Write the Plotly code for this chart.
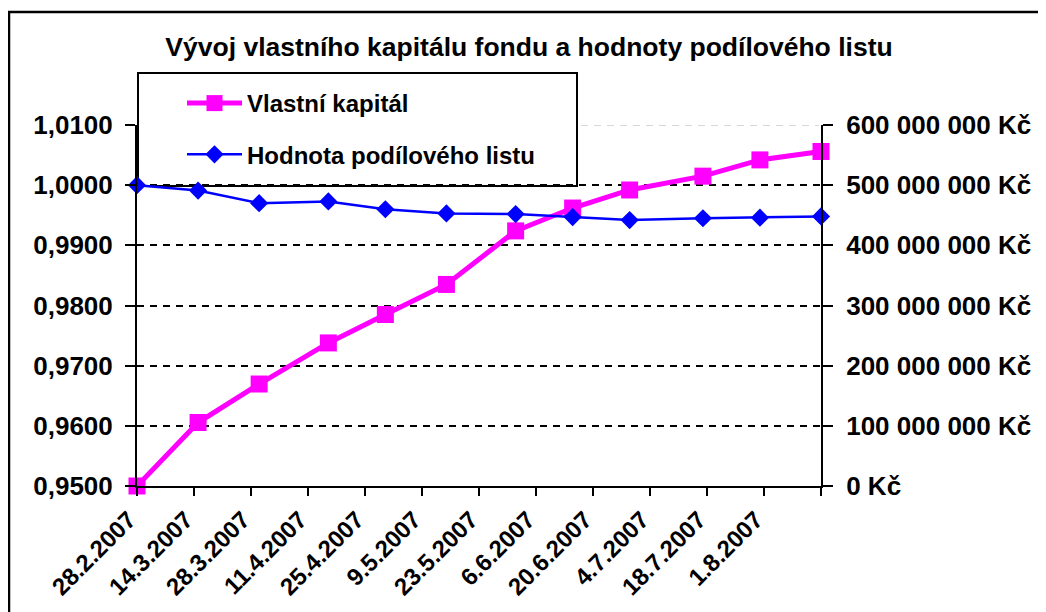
import plotly.graph_objects as go

# ---- data ----
dates = ["2007-02-28", "2007-03-15", "2007-03-30", "2007-04-16", "2007-04-30",
         "2007-05-15", "2007-06-01", "2007-06-15", "2007-06-29", "2007-07-17",
         "2007-07-31", "2007-08-15"]
vlastni_kapital = [0, 105_500_000, 169_500_000, 237_800_000, 285_000_000,
                   335_000_000, 424_000_000, 462_000_000, 492_000_000,
                   515_000_000, 542_000_000, 556_000_000]
hodnota_pl = [1.0000, 0.9991, 0.9970, 0.9973, 0.9960, 0.9953, 0.9952,
              0.9947, 0.9942, 0.9945, 0.9946, 0.9948]

tick_dates = ["2007-02-28", "2007-03-14", "2007-03-28", "2007-04-11", "2007-04-25",
              "2007-05-09", "2007-05-23", "2007-06-06", "2007-06-20", "2007-07-04",
              "2007-07-18", "2007-08-01", "2007-08-15"]
tick_labels = ["28.2.2007", "14.3.2007", "28.3.2007", "11.4.2007", "25.4.2007",
               "9.5.2007", "23.5.2007", "6.6.2007", "20.6.2007", "4.7.2007",
               "18.7.2007", "1.8.2007", ""]

title_text = "Vývoj vlastního kapitálu fondu a hodnoty podílového listu"

FONT = "Liberation Sans, Arial, sans-serif"
OFF = 8  # default page body margin
PAGE_W, PAGE_H = 1046, 612
W, H = PAGE_W - OFF, PAGE_H - OFF
PL, PR, PT, PB = 137, 821, 125, 486  # plot area in page pixels
L, R, T, B = PL - OFF, PAGE_W - PR, PT - OFF, PAGE_H - PB
PW, PH = PR - PL, PB - PT
Y_TOP = 600_000_000


def px_x(x):
    return (x - PL) / PW


def px_y(y):
    return (PB - y) / PH


fig = go.Figure()
fig.add_trace(go.Scatter(
    x=dates, y=vlastni_kapital, name="Vlastní kapitál", yaxis="y",
    mode="lines+markers", legendgroup="a",
    line=dict(color="#FF00FF", width=5),
    marker=dict(symbol="square", size=17, color="#FF00FF"),
    cliponaxis=False,
))
fig.add_trace(go.Scatter(
    x=dates, y=hodnota_pl, name="Hodnota podílového listu", yaxis="y2",
    mode="lines+markers", legendgroup="b",
    line=dict(color="#0000FF", width=2.5),
    marker=dict(symbol="diamond", size=14, color="#0000FF"),
    cliponaxis=False,
))

tickfont = dict(family=FONT, size=26, color="black", weight="bold")
xtickfont = dict(family=FONT, size=24, color="black", weight="bold")

fig.update_layout(
    width=W, height=H,
    margin=dict(l=L, r=R, t=T, b=B, autoexpand=False),
    paper_bgcolor="white", plot_bgcolor="white",
    separators=", ",
    font=dict(family=FONT, color="black"),
    title=dict(text=title_text, x=(529 - OFF) / W, xref="container", xanchor="center",
               y=1 - (47 - OFF) / H, yref="container", yanchor="middle",
               font=dict(family=FONT, size=26.5, color="black", weight="bold")),
    xaxis=dict(
        type="date", range=["2007-02-28", "2007-08-15"],
        tickvals=tick_dates, ticktext=tick_labels, tickangle=-45,
        tickfont=xtickfont, ticks="outside", ticklen=8, tickwidth=2,
        tickcolor="black", ticklabelshift=-8,
        showline=True, linecolor="black", linewidth=2,
        showgrid=False, zeroline=False, automargin=False,
    ),
    yaxis=dict(
        side="right", range=[0, Y_TOP], dtick=100_000_000,
        tickformat=",.0f", ticksuffix=" Kč", tickfont=tickfont,
        ticks="outside", ticklen=10, tickwidth=2, tickcolor="black",
        ticklabelstandoff=8,
        showline=True, linecolor="black", linewidth=2,
        showgrid=True, gridcolor="black", gridwidth=2, griddash="7px,6px",
        zeroline=False, automargin=False,
    ),
    yaxis2=dict(
        overlaying="y", side="left", range=[0.95, 1.01], dtick=0.01,
        tickformat=".4f", tickfont=tickfont,
        ticks="outside", ticklen=10, tickwidth=2, tickcolor="black",
        ticklabelstandoff=7,
        showline=True, linecolor="black", linewidth=2,
        showgrid=False, zeroline=False, automargin=False,
    ),
    showlegend=True,
    legend=dict(
        x=px_x(182), y=px_y(81), xanchor="left", yanchor="top",
        bgcolor="rgba(0,0,0,0)", borderwidth=0,
        font=dict(family=FONT, size=24, color="black", weight="bold"),
        traceorder="grouped", tracegroupgap=17, itemwidth=55,
    ),
    shapes=[
        # outer chart frame
        dict(type="rect", xref="paper", yref="paper",
             x0=px_x(9), x1=px_x(1060), y0=px_y(630), y1=px_y(12),
             line=dict(color="black", width=2.5), fillcolor="rgba(0,0,0,0)",
             layer="below"),
        # top gridline rendered lighter, as in the original
        dict(type="line", xref="paper", yref="y", x0=0.003, x1=0.997,
             y0=Y_TOP, y1=Y_TOP, line=dict(color="white", width=3),
             layer="between"),
        dict(type="line", xref="paper", yref="y", x0=0.003, x1=0.997,
             y0=Y_TOP, y1=Y_TOP, line=dict(color="#b0b0b0", width=1.2, dash="7px,6px"),
             layer="between"),
        # legend box
        dict(type="rect", xref="paper", yref="paper",
             x0=px_x(138), x1=px_x(577), y0=px_y(186), y1=px_y(73),
             line=dict(color="black", width=2), fillcolor="white",
             layer="between"),
    ],
)

fig.write_html("out.html")
